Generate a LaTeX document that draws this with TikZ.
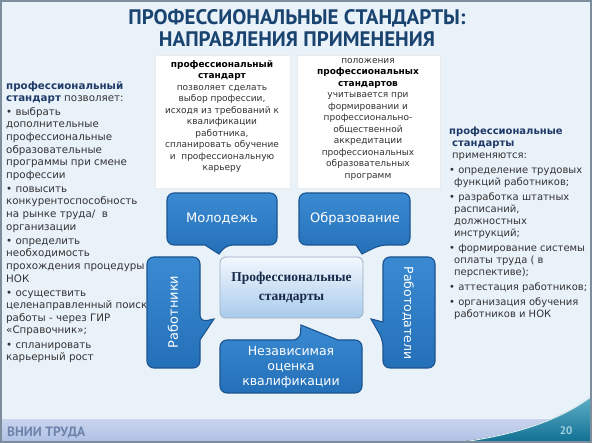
\documentclass[tikz,border=0pt]{standalone}
\usepackage{fontspec}
\setmainfont{DejaVu Sans}
\newfontfamily\ptsans{PT Sans}
\newfontfamily\serifb{Liberation Serif}
\definecolor{bgc}{HTML}{E9F1F9}
\definecolor{framec}{HTML}{7E8D9C}
\definecolor{titlec}{HTML}{1A4470}
\definecolor{navy}{HTML}{1F3A68}
\definecolor{txt}{HTML}{333333}
\definecolor{cTop}{HTML}{3A8AD2}
\definecolor{cBot}{HTML}{2470B8}
\definecolor{cEdge}{HTML}{1B5490}
\definecolor{ctrTop}{HTML}{F2F7FD}
\definecolor{ctrBot}{HTML}{A9CBEC}
\definecolor{ctrEdge}{HTML}{9AAEC4}
\definecolor{bandTop}{HTML}{C9D4EE}
\definecolor{bandBot}{HTML}{AFC0E4}
\definecolor{tealA}{HTML}{1C8FB0}
\definecolor{tealB}{HTML}{0F6E92}
\begin{document}
\begin{tikzpicture}[x=1pt,y=-1pt,
  callout/.style={top color=cTop,bottom color=cBot,draw=cEdge,line width=1.1pt,rounded corners=7pt},
  ctext/.style={text=white,font=\fontsize{13}{15}\selectfont,align=center,inner sep=0pt},
  titletext/.style={text=titlec,font=\ptsans\bfseries\fontsize{21}{23}\selectfont,inner sep=0pt},
  colbox/.style={fill=white,draw=black!8,line width=0.4pt},
  coltext/.style={align=center,inner sep=0pt,text=txt,font=\fontsize{9}{11.5}\selectfont},
  sidetext/.style={align=left,inner sep=0pt,text=txt,font=\fontsize{10.3}{12.6}\selectfont}]
\useasboundingbox (0,0) rectangle (592,443);
% background and frame
\fill[bgc] (0,0) rectangle (592,443);
\fill[top color=bandTop,bottom color=bandBot] (0,419) rectangle (592,443);
\draw[white!70!bandTop,line width=1pt] (0,419) -- (592,419);
\fill[top color=tealA!70!white,bottom color=tealB] (450,443) .. controls (515,436) and (560,420) .. (592,396) -- (592,443) -- cycle;
\draw[white!85!tealA,line width=1pt] (455,443) .. controls (518,435) and (562,419) .. (592,396);
\draw[framec,line width=2pt] (1,1) rectangle (591,442);
% footer texts
\node[anchor=west,inner sep=0pt,text=navy!45!bandBot,font=\ptsans\bfseries\fontsize{13.5}{15}\selectfont] (org) at (7,433) {ВНИИ ТРУДА};
\node[inner sep=0pt,text=tealA!40!white,font=\ptsans\bfseries\fontsize{11}{12}\selectfont] (pg) at (566,431) {20};
% title
\node[titletext] (t1) at (297,18) {ПРОФЕССИОНАЛЬНЫЕ СТАНДАРТЫ:};
\node[titletext] (t2) at (297,39) {НАПРАВЛЕНИЯ ПРИМЕНЕНИЯ};
% top white boxes
\fill[colbox] (155,55) rectangle (290,188);
\fill[colbox] (297,55) rectangle (440,188);
\node[coltext,anchor=north] (b1) at (222,60) {{\bfseries\color{black}профессиональный}\\{\bfseries\color{black}стандарт}\\позволяет сделать\\выбор профессии,\\исходя из требований к\\квалификации\\работника,\\спланировать обучение\\и\ \ профессиональную\\карьеру};
\node[coltext,anchor=north] (b2) at (368,58) {положения\\{\bfseries\color{black}профессиональных}\\{\bfseries\color{black}стандартов}\\учитывается при\\формировании и\\профессионально-\\общественной\\аккредитации\\профессиональных\\образовательных\\программ};
% left column
\node[sidetext,anchor=north west] (lc) at (6,81) {{\bfseries\color{navy}профессиональный}\\{\bfseries\color{navy}стандарт} позволяет:\\[1pt]
• выбрать\\дополнительные\\профессиональные\\образовательные\\программы при смене\\профессии\\[1.5pt]
• повысить\\конкурентоспособность\\на рынке труда/\ \ в\\организации\\[1.5pt]
• определить\\необходимость\\прохождения процедуры\\НОК\\[1.5pt]
• осуществить\\целенаправленный поиск\\работы - через ГИР\\«Справочник»;\\[1.5pt]
• спланировать\\карьерный рост};
% right column
\node[sidetext,anchor=north west,font=\fontsize{10}{12}\selectfont] (rc) at (449,127) {{\bfseries\color{navy}профессиональные}\\\hspace*{3pt}{\bfseries\color{navy}стандарты}\\\hspace*{3pt}применяются:\\[3pt]
• определение трудовых\\\hspace*{5pt}функций работников;\\[3pt]
• разработка штатных\\\hspace*{5pt}расписаний,\\\hspace*{5pt}должностных\\\hspace*{5pt}инструкций;\\[3pt]
• формирование системы\\\hspace*{5pt}оплаты труда ( в\\\hspace*{5pt}перспективе);\\[3pt]
• аттестация работников;\\[3pt]
• организация обучения\\\hspace*{5pt}работников и НОК};
% callouts
\draw[callout] (167,193) -- (277,193) -- (277,245) -- (226,245) [sharp corners] -- (219,254) -- (205,245) [rounded corners=7pt] -- (167,245) -- cycle;
\node[ctext] (mol) at (222,219) {Молодежь};
\draw[callout] (299,193) -- (410,193) -- (410,245) -- (380,245) [sharp corners] -- (362,254) -- (356,245) [rounded corners=7pt] -- (299,245) -- cycle;
\node[ctext] (obr) at (355,219) {Образование};
\draw[callout] (147,257) -- (200,257) -- (200,322) [sharp corners] -- (214,319) -- (200,340) [rounded corners=7pt] -- (200,368) -- (147,368) -- cycle;
\node[ctext,rotate=90] (rab) at (173,312) {Работники};
\draw[callout] (383,257) -- (435,257) -- (435,368) -- (383,368) -- (383,340) [sharp corners] -- (371,319) -- (383,322) [rounded corners=7pt] -- cycle;
\node[ctext,rotate=-90,font=\fontsize{12.5}{15}\selectfont] (rabd) at (408,313) {Работодатели};
\draw[callout] (220,340) -- (300,340) [sharp corners] -- (301,325) -- (338,340) [rounded corners=7pt] -- (362,340) -- (362,393) -- (220,393) -- cycle;
\node[ctext,font=\fontsize{12.5}{15}\selectfont] (nok) at (291,367) {Независимая\\оценка\\квалификации};
% center
\node[draw=ctrEdge,line width=0.8pt,rounded corners=6pt,top color=ctrTop,bottom color=ctrBot,minimum width=143pt,minimum height=61pt,inner sep=0pt,align=center,text=navy!70!black,font=\serifb\bfseries\fontsize{13.5}{19}\selectfont] (ps) at (291.5,287.5) {Профессиональные\\стандарты};
\end{tikzpicture}
\end{document}
